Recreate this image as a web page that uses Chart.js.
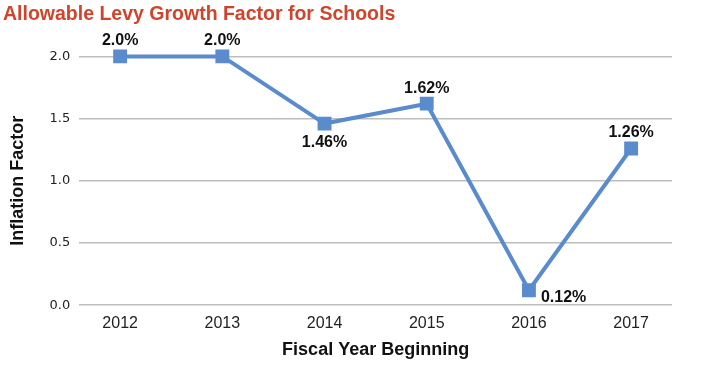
<!DOCTYPE html>
<html>
<head>
<meta charset="utf-8">
<script src="https://cdn.jsdelivr.net/npm/chart.js@4"></script>
<style>
  body { margin: 0; background: #fff; }
  #wrap { width: 706px; height: 368px; }
</style>
</head>
<body>
<div id="wrap"><canvas id="levy"></canvas></div>
<script>
const years = [2012, 2013, 2014, 2015, 2016, 2017];
const factors = [2.0, 2.0, 1.46, 1.62, 0.12, 1.26];
const pointLabels = ['2.0%', '2.0%', '1.46%', '1.62%', '0.12%', '1.26%'];
const yTicks = [0, 0.5, 1.0, 1.5, 2.0];

// where each value label sits relative to its point
const labelPlace = ['above', 'above', 'below', 'above', 'right', 'above'];

const valueLabels = {
    id: 'valueLabels',
    afterDatasetsDraw(chart) {
        const ctx = chart.ctx;
        const meta = chart.getDatasetMeta(0);
        ctx.save();
        ctx.font = 'bold 16px "Liberation Sans", Arial, sans-serif';
        ctx.fillStyle = '#111';
        meta.data.forEach((pt, i) => {
            let x = pt.x, y = pt.y;
            ctx.textAlign = 'center';
            ctx.textBaseline = 'alphabetic';
            if (labelPlace[i] === 'above') { y -= 11; }
            else if (labelPlace[i] === 'below') { y += 23; }
            else { ctx.textAlign = 'left'; x += 12; y += 12; }
            ctx.fillText(pointLabels[i], x, y);
        });
        ctx.restore();
    }
};

new Chart(document.getElementById('levy'), {
    type: 'line',
    data: {
        datasets: [{
            data: years.map((yr, i) => ({ x: yr, y: factors[i] })),
            borderColor: '#5a8ccd',
            backgroundColor: '#5a8ccd',
            borderWidth: 4,
            pointStyle: 'rect',
            pointRadius: 7,
            pointHoverRadius: 7,
            tension: 0,
            clip: false
        }]
    },
    options: {
        responsive: true,
        maintainAspectRatio: false,
        animation: false,
        layout: { padding: { left: 3, right: 34, top: 0, bottom: 3 } },
        plugins: {
            legend: { display: false },
            tooltip: { enabled: false },
            title: {
                display: true,
                text: 'Allowable Levy Growth Factor for Schools',
                align: 'start',
                color: '#d0442c',
                font: { family: '"Liberation Sans", Arial, sans-serif', size: 19.5, weight: 'bold' },
                padding: { top: 3, bottom: 30 }
            }
        },
        scales: {
            x: {
                type: 'linear',
                min: 2011.6,
                max: 2017.4,
                afterBuildTicks: s => { s.ticks = years.map(v => ({ value: v })); },
                grid: { display: false },
                border: { display: false },
                ticks: {
                    color: '#222',
                    font: { family: '"Liberation Sans", Arial, sans-serif', size: 16 },
                    padding: 1,
                    callback: v => String(v)
                },
                title: {
                    display: true,
                    text: 'Fiscal Year Beginning',
                    color: '#111',
                    font: { family: '"Liberation Sans", Arial, sans-serif', size: 18, weight: 'bold' },
                    padding: { top: 5 }
                }
            },
            y: {
                min: 0,
                max: 2,
                afterBuildTicks: s => { s.ticks = yTicks.map(v => ({ value: v })); },
                grid: { color: '#bdbdbd', lineWidth: 1.5, drawTicks: false },
                border: { display: false },
                ticks: {
                    color: '#222',
                    font: { family: '"DejaVu Sans", sans-serif', size: 13 },
                    padding: 9,
                    callback: v => v.toFixed(1)
                },
                title: {
                    display: true,
                    text: 'Inflation Factor',
                    color: '#111',
                    font: { family: '"Liberation Sans", Arial, sans-serif', size: 18, weight: 'bold' },
                    padding: { bottom: 12 }
                }
            }
        }
    },
    plugins: [valueLabels]
});
</script>
</body>
</html>
